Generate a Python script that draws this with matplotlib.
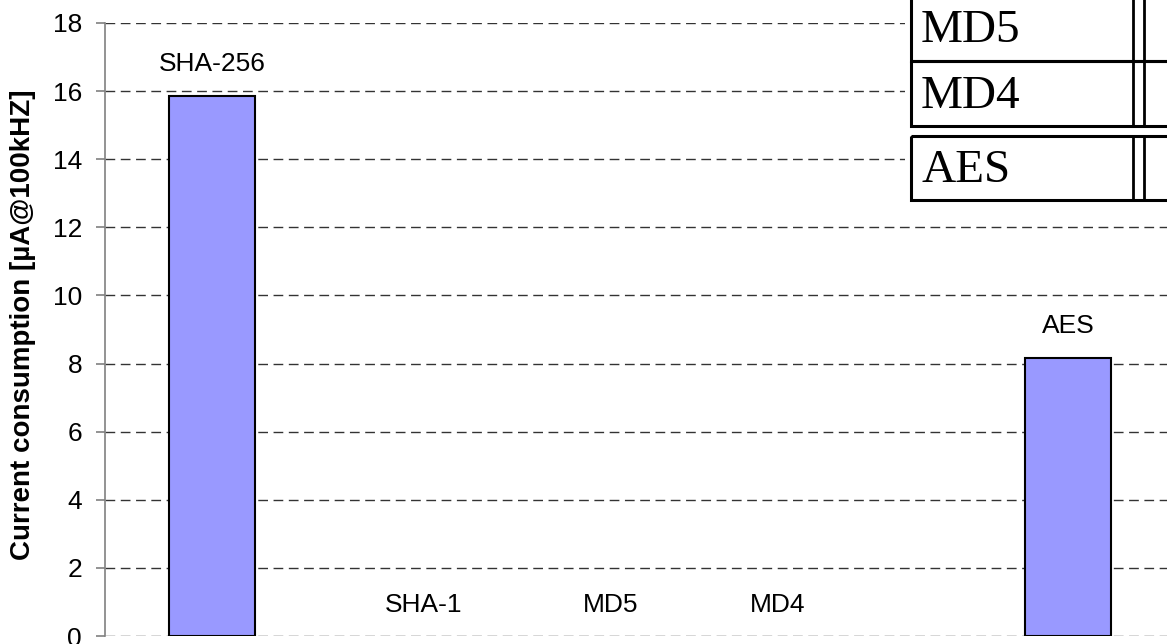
import matplotlib
matplotlib.use('Agg')
import matplotlib.pyplot as plt
from matplotlib.patches import Rectangle

plt.rcParams.update({'font.family': ['Liberation Sans', 'DejaVu Sans'], 'font.size': 19})

categories = ['SHA-256', 'SHA-1', 'MD5', 'MD4', 'AES']
values = [15.85, 0, 0, 0, 8.15]
yticks = [0, 2, 4, 6, 8, 10, 12, 14, 16, 18]
table_rows = ['MD5', 'MD4', 'AES']

# label placement (x shift in category units, y for zero bars)
label_dx = [0, -0.01, -0.135, -0.355, 0]

W, H = 1167, 644
fig = plt.figure(figsize=(W / 100, H / 100), dpi=100)
ax = fig.add_axes([105 / W, 8 / H, 1070 / W, 613 / H])

x = list(range(len(categories)))
bars = ax.bar(x, values, width=0.4, color='#9999ff', edgecolor='black', linewidth=1.5, zorder=3)
for b, v in zip(bars, values):
    if v == 0:
        b.set_visible(False)

for i, (c, v) in enumerate(zip(categories, values)):
    ty = v + 0.95 if v > 0 else 0.9
    ax.text(i + label_dx[i], ty, c, ha='center', va='center', fontsize=19, zorder=4)

ax.set_xlim(-0.5, 4.5)
ax.set_ylim(0, 18)
ax.set_yticks(yticks)
ax.set_xticks([])
ax.yaxis.grid(True, linestyle=(0, (7, 4)), color='#333333', linewidth=1.0)
ax.set_axisbelow(True)
for s in ['top', 'right', 'bottom']:
    ax.spines[s].set_visible(False)
ax.spines['left'].set_color('#808080')
ax.spines['left'].set_linewidth(1.2)
ax.tick_params(axis='y', length=6.5, color='#808080', width=1.2, pad=10, labelsize=19)
ax.set_ylabel('Current consumption [µA@100kHZ]', fontweight='bold', fontsize=20)
ax.yaxis.set_label_coords(-0.0645, 0.507)

# pasted table image in the top-right corner
tx = fig.add_axes([905 / W, 1 - 206 / H, (W - 905) / W, 206 / H])
tx.set_xlim(905, W)
tx.set_ylim(206, 0)
tx.axis('off')
tx.add_patch(Rectangle((905, 0), W - 905, 206, facecolor='white', edgecolor='none'))
boxes = [(-5, 61), (61, 126), (136, 200)]
for name, (y0, y1) in zip(table_rows, boxes):
    tx.add_patch(Rectangle((911, y0), W - 911 + 5, y1 - y0, facecolor='none',
                           edgecolor='black', linewidth=2.2))
    for vx in (1133, 1144):
        tx.plot([vx, vx], [y0, y1], color='black', linewidth=2.0)
    tx.text(921, (y0 + y1) / 2 + 3 if y0 >= 0 else 31, name, family='Liberation Serif',
            fontsize=34, ha='left', va='center')

fig.savefig('out.png', dpi=100)
